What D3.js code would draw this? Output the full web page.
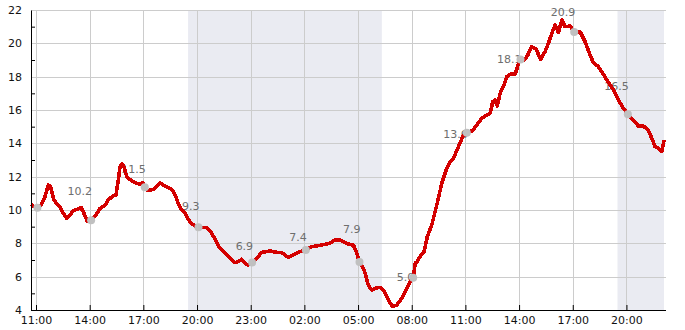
<!DOCTYPE html>
<html>
<head>
<meta charset="utf-8">
<script src="https://cdn.jsdelivr.net/npm/d3@7"></script>
<style>
  body { margin: 0; background: #fff; }
  text { font-family: "DejaVu Sans", sans-serif; }
</style>
</head>
<body>
<svg id="chart" width="685" height="330"></svg>
<script>
// hours since midnight of day 1, temperature
var hours = [10.72, 10.85, 11.04, 11.32, 11.50, 11.69, 11.82, 11.97, 12.12, 12.34, 12.53, 12.72, 12.90, 13.08,
  13.31, 13.51, 13.68, 13.87, 14.11, 14.35, 14.58, 14.86, 15.04, 15.29, 15.47, 15.60, 15.69, 15.79, 15.92,
  16.07, 16.29, 16.44, 16.63, 16.81, 16.96, 17.11, 17.28, 17.56, 17.75, 17.93, 18.12, 18.31, 18.49, 18.68,
  18.83, 18.95, 19.14, 19.33, 19.48, 19.65, 19.83, 20.07, 20.26, 20.54, 20.73, 20.95, 21.19, 21.29, 21.56,
  21.84, 22.12, 22.31, 22.50, 22.68, 22.87, 23.09, 23.34, 23.62, 24.08, 24.45, 24.73, 25.10, 25.38, 25.76,
  26.09, 26.41, 26.78, 27.06, 27.39, 27.71, 27.99, 28.27, 28.51, 28.74, 28.93, 29.07, 29.30, 29.45, 29.57,
  29.76, 29.95, 30.23, 30.41, 30.60, 30.79, 30.94, 31.16, 31.44, 31.72, 31.95, 32.09, 32.19, 32.30, 32.46,
  32.69, 32.87, 33.12, 33.40, 33.68, 33.96, 34.14, 34.33, 34.61, 34.85, 35.11, 35.41, 35.63, 35.91, 36.19,
  36.38, 36.53, 36.66, 36.78, 36.94, 37.16, 37.31, 37.54, 37.78, 38.05, 38.28, 38.46, 38.71, 38.95, 39.21,
  39.45, 39.64, 39.83, 40.01, 40.20, 40.39, 40.57, 40.85, 41.07, 41.41, 41.69, 41.93, 42.15, 42.43, 42.68,
  42.90, 43.27, 43.55, 43.83, 44.11, 44.39, 44.67, 44.95, 45.23, 45.42, 45.60, 45.79, 45.98, 46.10];
var temps = [10.36, 10.24, 10.1, 10.36, 10.8, 11.5, 11.4, 10.7, 10.4, 10.2, 9.8, 9.5, 9.7, 9.96,
  10.04, 10.16, 9.8, 9.3, 9.4, 9.7, 10.1, 10.3, 10.6, 10.84, 10.9, 11.8, 12.6, 12.76, 12.6,
  12.0, 11.8, 11.7, 11.6, 11.56, 11.64, 11.3, 11.16, 11.24, 11.4, 11.64, 11.5, 11.4, 11.3, 11.1,
  10.8, 10.36, 10.0, 9.8, 9.5, 9.24, 9.08, 8.96, 8.94, 8.94, 8.76, 8.36, 7.84, 7.7, 7.4,
  7.1, 6.84, 6.9, 7.04, 6.8, 6.7, 6.86, 7.1, 7.46, 7.54, 7.46, 7.44, 7.16, 7.3, 7.5,
  7.6, 7.8, 7.86, 7.92, 8.0, 8.2, 8.2, 8.04, 7.94, 7.9, 7.4, 6.9, 6.5, 6.0, 5.5,
  5.2, 5.3, 5.36, 5.2, 4.8, 4.4, 4.2, 4.3, 4.7, 5.3, 5.8, 5.94, 6.8, 6.9, 7.2,
  7.5, 8.4, 9.1, 10.3, 11.6, 12.5, 12.9, 13.1, 13.8, 14.4, 14.66, 14.76, 15.1, 15.5, 15.7,
  15.8, 16.5, 16.6, 16.24, 17.0, 17.5, 18.0, 18.16, 18.16, 19.04, 19.0, 19.24, 19.8, 19.64, 19.04,
  19.5, 20.0, 20.6, 21.1, 20.64, 21.4, 21.0, 21.04, 20.68, 20.7, 20.1, 19.4, 18.84, 18.6, 18.2,
  17.8, 17.2, 16.6, 16.1, 15.7, 15.4, 15.04, 15.04, 14.76, 14.3, 13.8, 13.7, 13.5, 14.2];

// three-hourly markers and their labels
var markerHours = [11.08, 14.08, 17.08, 20.08, 23.08, 26.08, 29.08, 32.08, 35.08, 38.08, 41.08, 44.08];
var markerLabels = ["", "10.2", "11.5", "9.3", "6.9", "7.4", "7.9", "5.0", "13.6", "18.1", "20.9", "16.5"];
var labelValues = [null, 10.2, 11.5, 9.3, 6.9, 7.4, 7.9, 5.0, 13.6, 18.1, 20.9, 16.5];

// night bands
var nightStart = [19.5, 43.5];
var nightEnd = [30.33, 46.1];

var xTicks = [11, 14, 17, 20, 23, 26, 29, 32, 35, 38, 41, 44];
var yTicks = [4, 6, 8, 10, 12, 14, 16, 18, 20, 22];

var svg = d3.select("#chart");
var margin = { left: 31, right: 21, top: 10, bottom: 20 };
var width = 685 - margin.left - margin.right,
  height = 330 - margin.top - margin.bottom;

var x = d3.scaleLinear().domain([10.72, 46.1]).range([0, width]);
var y = d3.scaleLinear().domain([4, 22]).range([height, 0]);

var g = svg.append("g")
  .attr("transform", "translate(" + margin.left + "," + margin.top + ")");

// night shading
g.selectAll(".night")
  .data(nightStart)
  .enter().append("rect")
  .attr("class", "night")
  .attr("x", function(d) { return x(d); })
  .attr("y", 0)
  .attr("width", function(d, i) { return x(nightEnd[i]) - x(d); })
  .attr("height", height)
  .attr("fill", "#eaebf2");

// grid
g.selectAll(".hgrid")
  .data(yTicks)
  .enter().append("line")
  .attr("x1", 0).attr("x2", width + 2)
  .attr("y1", function(d) { return Math.round(y(d)) + 0.5; })
  .attr("y2", function(d) { return Math.round(y(d)) + 0.5; })
  .attr("stroke", "#cccccc");

g.selectAll(".vgrid")
  .data(xTicks)
  .enter().append("line")
  .attr("y1", 0).attr("y2", height)
  .attr("x1", function(d) { return Math.round(x(d)) + 0.5; })
  .attr("x2", function(d) { return Math.round(x(d)) + 0.5; })
  .attr("stroke", "#cccccc");

// value labels
g.selectAll(".vlabel")
  .data(markerLabels)
  .enter().append("text")
  .attr("x", function(d, i) { return x(markerHours[i]) + 1; })
  .attr("y", function(d, i) { return labelValues[i] == null ? 0 : y(labelValues[i]) - 12; })
  .attr("text-anchor", "end")
  .attr("font-size", 11)
  .attr("fill", "#6e6e6e")
  .text(function(d) { return d; });

// temperature line
var data = hours.map(function(h, i) { return { h: h, v: temps[i] }; });
var line = d3.line()
  .x(function(d) { return x(d.h); })
  .y(function(d) { return y(d.v); });

g.append("path")
  .datum(data)
  .attr("fill", "none")
  .attr("stroke", "#d40000")
  .attr("stroke-width", 3.6)
  .attr("stroke-linejoin", "round")
  .attr("shape-rendering", "crispEdges")
  .attr("d", line);

// markers on the line
var interp = function(h) {
  var i = d3.bisector(function(d) { return d.h; }).left(data, h);
  var a = data[Math.max(0, i - 1)], b = data[Math.min(data.length - 1, i)];
  if (a === b) return a.v;
  return a.v + (b.v - a.v) * (h - a.h) / (b.h - a.h);
};

g.selectAll(".marker")
  .data(markerHours)
  .enter().append("circle")
  .attr("cx", function(d) { return x(d); })
  .attr("cy", function(d) { return y(interp(d)); })
  .attr("r", 4)
  .attr("fill", "#c0c0c0");

// axes
var fmt = function(h) { return d3.format("02")(h % 24) + ":00"; };

var xAxis = g.append("g")
  .attr("transform", "translate(0," + height + ")")
  .call(d3.axisBottom(x).tickValues(xTicks).tickFormat(fmt).tickSizeInner(-5).tickSizeOuter(0).tickPadding(6));

var yAxis = g.append("g")
  .call(d3.axisLeft(y).tickValues(yTicks).tickSizeInner(0).tickSizeOuter(0).tickPadding(9));

g.append("g")
  .call(d3.axisLeft(y).tickValues(d3.range(5, 22, 2)).tickSizeInner(-4).tickSizeOuter(0).tickFormat(""))
  .select(".domain").remove();

[xAxis, yAxis].forEach(function(a) {
  a.selectAll("text").attr("font-size", 11).attr("fill", "#111").style("font-family", "DejaVu Sans");
});
xAxis.select(".domain").attr("d", "M0,0.5H" + (width + 2));
</script>
</body>
</html>
